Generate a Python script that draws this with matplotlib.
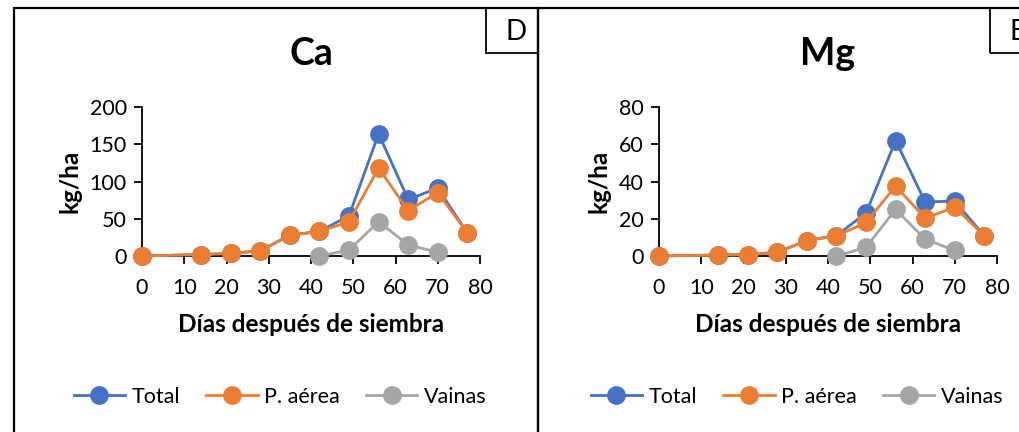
import matplotlib.pyplot as plt
from matplotlib.patches import Rectangle

plt.rcParams['font.family'] = ['Lato', 'DejaVu Sans']

# data (días después de siembra)
dias = [0, 14, 21, 28, 35, 42, 49, 56, 63, 70, 77]
dias_vainas = [42, 49, 56, 63, 70]

ca_total = [0, 2, 3.5, 7, 28, 33, 54, 164, 76, 91, 31]
ca_aerea = [0, 2, 3.5, 7, 28, 33, 46, 118, 61, 85, 31]
ca_vainas = [0, 8, 46, 15, 5]

mg_total = [0, 0.6, 0.8, 2, 8.3, 11, 23, 62, 29, 29.5, 10.8]
mg_aerea = [0, 0.5, 0.6, 2, 8.3, 10.8, 18, 37.5, 20.3, 26.2, 10.8]
mg_vainas = [0, 4.7, 25, 9, 3]

series_names = ['Total', 'P. aérea', 'Vainas']
colors = ['#4472C4', '#ED7D31', '#A5A5A5']

W, H = 1020, 432
fig = plt.figure(figsize=(W / 100, H / 100), dpi=100)


def fx(px):
    return px / W


def fy(py):
    return 1 - py / H


panels = [
    dict(title='Ca', letter='D', ymax=200, yticks=[0, 50, 100, 150, 200],
         total=ca_total, aerea=ca_aerea, vainas=ca_vainas, off=0, foff=0, box=486),
    dict(title='Mg', letter='E', ymax=80, yticks=[0, 20, 40, 60, 80],
         total=mg_total, aerea=mg_aerea, vainas=mg_vainas, off=517, foff=524, box=990),
]

for p in panels:
    off = p['off']
    foff = p['foff']
    ax = fig.add_axes([fx(142 + off), fy(256), fx(338), 149 / H])
    data = [(dias, p['total']), (dias, p['aerea']), (dias_vainas, p['vainas'])]
    for (xs, ys), name, c in zip(data, series_names, colors):
        ax.plot(xs, ys, '-o', color=c, lw=2, ms=12.5, label=name, clip_on=False, zorder=3)
    ax.set_xlim(0, 80)
    ax.set_ylim(0, p['ymax'])
    ax.set_xticks(range(0, 81, 10))
    ax.set_yticks(p['yticks'])
    for s in ['top', 'right']:
        ax.spines[s].set_visible(False)
    for s in ['left', 'bottom']:
        ax.spines[s].set_linewidth(1.3)
    ax.tick_params(direction='out', length=6, width=1.3, labelsize=15.5, pad=5)
    ax.tick_params(axis='x', pad=10)
    ax.set_xlabel('Días después de siembra', fontsize=17.5, fontweight='bold', labelpad=11)
    ax.set_ylabel('kg/ha', fontsize=17.5, fontweight='bold', labelpad=6)
    ax.set_title(p['title'], fontsize=27, fontweight='bold', pad=30)
    ax.legend(loc='center', bbox_to_anchor=(fx(280 + off), fy(397)),
              bbox_transform=fig.transFigure, ncol=3, frameon=False, fontsize=15.5,
              handlelength=2.4, handletextpad=0.3, columnspacing=1.2, markerscale=1)

    # panel frame and letter box
    fig.add_artist(Rectangle((fx(14 + foff), fy(470)), fx(524), (470 - 8) / H,
                             transform=fig.transFigure, fill=False, lw=1.6,
                             edgecolor='black'))
    fig.add_artist(Rectangle((fx(p['box']), fy(53)), fx(52), 45 / H,
                             transform=fig.transFigure, fill=False, lw=1.3,
                             edgecolor='black'))
    fig.text(fx(p['box'] + 20), fy(32), p['letter'], fontsize=20, ha='left', va='center')

fig.savefig('out.png', dpi=100)
